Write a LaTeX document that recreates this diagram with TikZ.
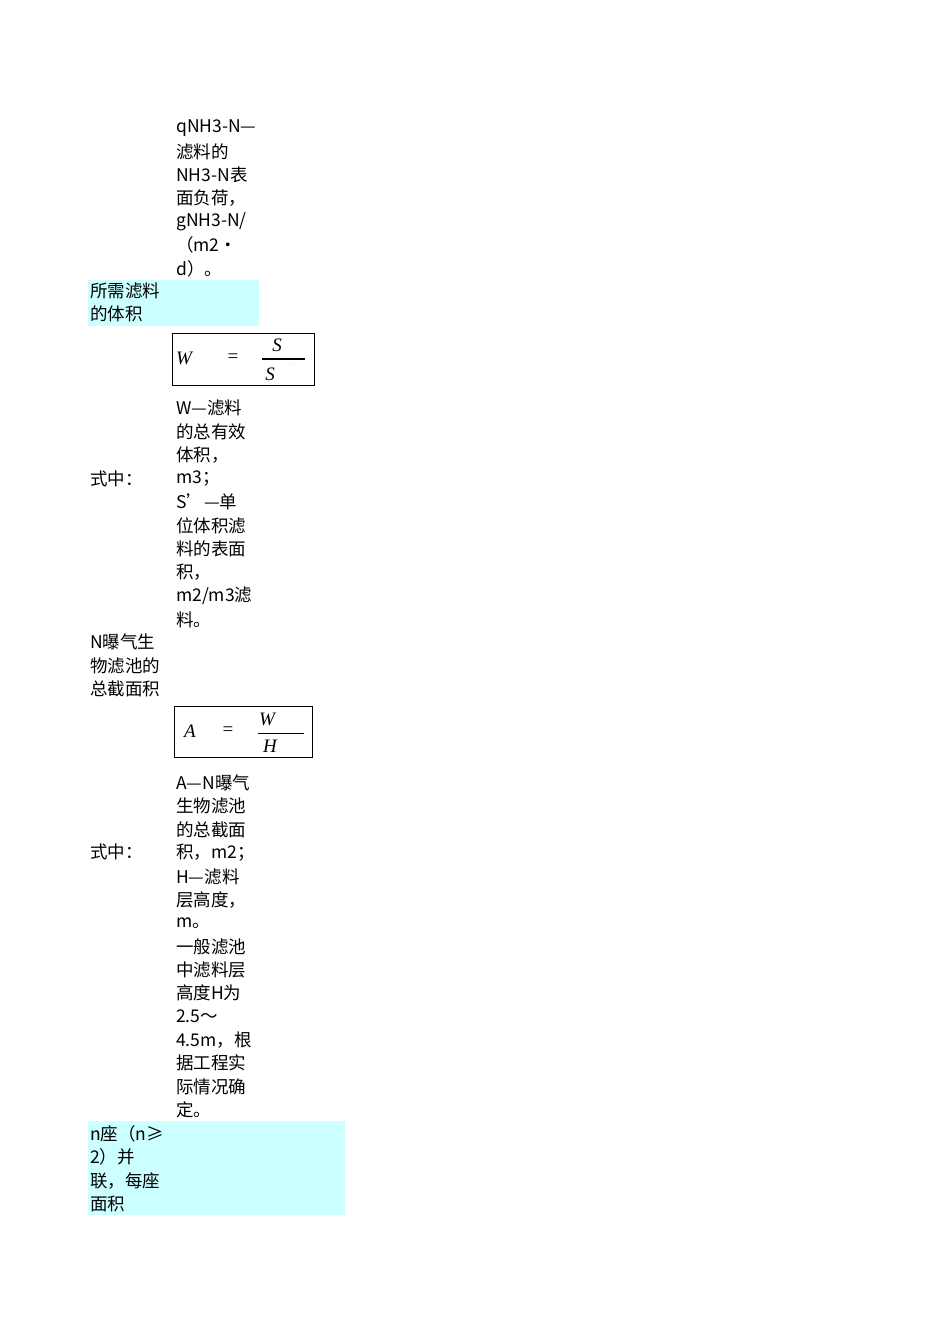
\documentclass[tikz,border=0pt]{standalone}
\usepackage{fontspec}
\newfontfamily\cjk{Noto Sans CJK SC}
\newfontfamily\tms{Liberation Serif}
\definecolor{cy}{HTML}{CCFFFF}
\begin{document}
\begin{tikzpicture}[x=1pt,y=-1pt,
  t/.style={anchor=west,inner sep=0pt,font=\cjk\fontsize{17.5}{17.5}\selectfont},
  f/.style={inner sep=0pt,font=\tms\fontsize{19}{19}\selectfont\itshape}]
\useasboundingbox (0,0) rectangle (950,1344);
\fill[cy] (88,280) rectangle (259,326);
\fill[cy] (88,1121) rectangle (345,1215);
\foreach \s [count=\i from 0] in {qNH3-N—,滤料的,NH3-N表,面负荷，,gNH3-N/,（m2·,d）。}
  \node[t] (a\i) at (176,128+23.4*\i) {\s};
\node[t] (b0) at (90,291) {所需滤料};
\node[t] (b1) at (90,314) {的体积};
\draw (172,333) rectangle (314,385);
\node[f] (w1) at (184,358) {W};
\node[f,font=\tms\fontsize{19}{19}\selectfont] (w2) at (233,358) {=};
\node[f] (w3) at (277,345) {S};
\node[f] (w4) at (270,374) {S};
\draw[line width=1.2pt] (262,359) -- (305,359);
\node[inner sep=0pt,font=\tiny] (w5) at (294,365) {.};
\foreach \s [count=\i from 0] in {W—滤料,的总有效,体积，,m3；,S’—单,位体积滤,料的表面,积，,m2/m3滤,料。}
  \node[t] (c\i) at (176,408+23.5*\i) {\s};
\node[t] (d0) at (90,479) {式中：};
\foreach \s [count=\i from 0] in {N曝气生,物滤池的,总截面积}
  \node[t] (e\i) at (90,642+23.5*\i) {\s};
\draw (174,706) rectangle (312,757);
\node[f] (h1) at (190,731) {A};
\node[f,font=\tms\fontsize{19}{19}\selectfont] (h2) at (228,731) {=};
\node[f] (h3) at (267,719) {W};
\node[f] (h4) at (270,746) {H};
\draw (258,733) -- (304,733);
\foreach \s [count=\i from 0] in {A—N曝气,生物滤池,的总截面,积，m2；,H—滤料,层高度，,m。,一般滤池,中滤料层,高度H为,2.5～,4.5m，根,据工程实,际情况确,定。}
  \node[t] (g\i) at (176,783+23.35*\i) {\s};
\node[t] (d1) at (90,852) {式中：};
\foreach \s [count=\i from 0] in {n座（n≥,2）并,联，每座,面积}
  \node[t] (k\i) at (90,1134+23.3*\i) {\s};
\end{tikzpicture}
\end{document}
